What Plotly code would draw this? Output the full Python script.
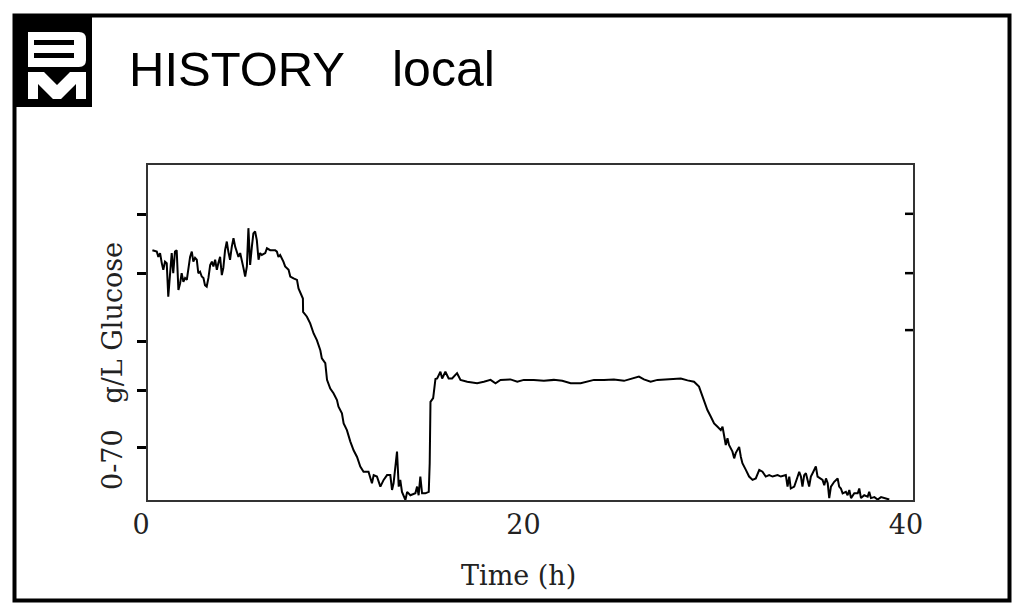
import plotly.graph_objects as go

# ─── Data ─────────────────────────────────────────────────────────────────────

time_h = [
    0.23, 0.46, 0.54, 0.63, 0.72, 0.80, 0.89, 0.98, 1.06, 1.15, 1.24, 1.32, 1.41,
    1.50, 1.59, 1.68, 1.76, 1.85, 1.94, 2.03, 2.11, 2.20, 2.29, 2.37, 2.46, 2.55,
    2.63, 2.72, 2.81, 2.90, 2.98, 3.07, 3.16, 3.25, 3.34, 3.42, 3.51, 3.60, 3.68,
    3.77, 3.86, 3.94, 4.03, 4.12, 4.20, 4.29, 4.38, 4.47, 4.56, 4.64, 4.73, 4.82,
    4.91, 4.99, 5.08, 5.17, 5.25, 5.34, 5.43, 5.51, 5.60, 5.69, 5.78, 5.86, 5.95,
    6.13, 6.22, 6.39, 6.65, 6.74, 6.82, 6.91, 7.08, 7.17, 7.35, 7.44, 7.61, 7.79,
    7.87, 8.00, 8.10, 8.11, 8.31, 8.48, 8.66, 8.83, 9.01, 9.09, 9.27, 9.36, 9.53,
    9.70, 9.88, 9.96, 10.14, 10.23, 10.40, 10.58, 10.75, 10.93, 11.10, 11.27,
    11.53, 11.71, 11.80, 11.97, 12.15, 12.32, 12.50, 12.67, 12.76, 12.84, 13.02,
    13.11, 13.19, 13.28, 13.37, 13.46, 13.55, 13.72, 13.98, 14.07, 14.15, 14.24,
    14.33, 14.50, 14.68, 14.73, 14.77, 14.91, 14.94, 15.03, 15.12, 15.29, 15.38,
    15.55, 15.72, 15.90, 16.16, 16.34, 16.69, 17.21, 17.56, 17.91, 18.17, 18.43,
    18.95, 19.31, 19.65, 20.17, 20.70, 21.22, 21.66, 22.10, 22.62, 22.97, 23.32,
    23.84, 24.36, 24.89, 25.41, 25.67, 25.93, 26.28, 26.64, 27.16, 27.86, 28.21,
    28.55, 28.81, 28.99, 29.07, 29.25, 29.43, 29.60, 29.78, 29.95, 30.04, 30.12,
    30.21, 30.30, 30.38, 30.56, 30.65, 30.73, 30.91, 31.00, 31.08, 31.26, 31.43,
    31.61, 31.78, 31.96, 32.13, 32.30, 32.48, 32.66, 32.92, 33.09, 33.35, 33.44,
    33.53, 33.61, 33.79, 33.97, 34.05, 34.14, 34.22, 34.31, 34.40, 34.57, 34.66,
    34.75, 34.92, 35.01, 35.19, 35.27, 35.36, 35.45, 35.54, 35.62, 35.71, 35.88,
    36.06, 36.14, 36.23, 36.32, 36.49, 36.58, 36.67, 36.76, 36.93, 37.11, 37.19,
    37.28, 37.45, 37.63, 37.71, 37.80, 37.98, 38.15, 38.33, 38.76,
]

glucose = [
    52.2, 51.9, 50.8, 51.6, 49.5, 48.1, 49.8, 49.5, 42.5, 46.7, 51.6, 47.4, 51.9,
    52.2, 43.9, 45.3, 47.4, 45.6, 46.4, 46.0, 48.1, 50.8, 51.9, 49.8, 50.6, 50.2,
    47.4, 47.7, 46.7, 46.4, 44.9, 44.6, 46.4, 49.1, 49.8, 48.8, 50.2, 48.1, 49.5,
    50.8, 47.0, 48.5, 52.2, 54.0, 51.9, 50.2, 52.9, 54.7, 52.9, 51.9, 50.8, 51.6,
    49.5, 48.5, 46.7, 48.8, 56.8, 49.1, 52.9, 55.7, 56.1, 54.3, 50.2, 51.6, 51.2,
    51.6, 52.6, 52.2, 52.2, 51.9, 50.8, 51.2, 49.8, 48.8, 48.1, 46.7, 46.3, 46.0,
    44.2, 43.2, 42.1, 39.3, 38.3, 36.9, 34.8, 33.4, 31.3, 29.6, 28.6, 25.1, 23.3,
    22.3, 20.9, 19.5, 18.1, 16.0, 14.6, 12.2, 10.4, 9.0, 7.0, 5.9,
    5.9, 3.5, 5.2, 4.9, 2.8, 4.2, 5.2, 5.2, 2.1, 3.5, 10.1,
    2.8, 4.2, 1.7, 0.7, 0.0, 1.7, 1.0, 1.4, 2.8, 1.0, 4.9,
    1.4, 1.4, 1.7, 7.7, 20.5, 21.3, 22.3, 25.3, 25.4, 26.8, 25.4,
    26.8, 25.4, 25.4, 26.5, 25.1, 24.7, 24.4, 24.7, 25.1, 24.4, 25.1,
    25.2, 24.7, 25.1, 25.1, 24.9, 25.1, 24.9, 24.4, 24.4, 24.7, 25.1,
    25.1, 25.2, 24.9, 25.4, 25.8, 25.2, 24.7, 25.1, 25.2, 25.4, 25.0,
    24.7, 23.7, 21.6, 20.5, 18.8, 17.4, 16.0, 15.3, 14.6, 15.3, 13.6,
    11.5, 12.9, 11.5, 10.1, 8.7, 9.8, 11.1, 9.0, 7.7, 6.3, 4.9,
    4.2, 4.5, 6.3, 5.9, 4.9, 5.2, 4.9, 5.2, 4.9, 5.2, 2.8,
    4.9, 2.4, 2.8, 4.9, 5.9, 4.9, 2.8, 5.2, 5.6, 2.8, 4.9,
    5.6, 7.0, 4.9, 4.5, 4.2, 3.1, 4.5, 3.5, 0.4, 2.8, 3.8,
    4.5, 2.8, 2.4, 1.4, 1.7, 1.0, 2.1, 0.4, 1.4, 1.4, 2.4,
    0.4, 1.0, 0.7, 1.7, 0.4, 0.6, 0.1, 0.6, 0.1,
]

x_ticks = [0, 20, 40]
left_ticks = [10.9, 22.8, 33.2, 47.4, 59.6]
right_ticks = [35.5, 47.4, 59.8]

# ─── Layout helpers (screen pixel -> paper) ───────────────────────────────────

W, H = 1024, 616
OFF = 8                      # page body margin around the plot div
L, R, T, B = 140, 905, 157, 492
SERIF = "DejaVu Serif"
SANS = "Liberation Sans, Arial, sans-serif"
INK = "#222"


def px(p):
    return (p - OFF - L) / (R - L)


def py(p):
    return (B - (p - OFF)) / (B - T)


fig = go.Figure()
fig.add_trace(go.Scatter(
    x=time_h, y=glucose, mode="lines",
    line=dict(color="black", width=2),
    showlegend=False, hoverinfo="skip",
))

shapes = [
    # outer frame
    dict(type="rect", xref="paper", yref="paper",
         x0=px(14.5), x1=px(1009.5), y0=py(15.5), y1=py(600.5),
         line=dict(color="black", width=4)),
    # logo block
    dict(type="rect", xref="paper", yref="paper",
         x0=px(13), x1=px(92), y0=py(14), y1=py(107),
         line=dict(width=0), fillcolor="black"),
    # B
    dict(type="path", xref="paper", yref="paper",
         path=(f"M {px(28)},{py(32)} L {px(79)},{py(32)} "
               f"Q {px(86)},{py(32)} {px(86)},{py(39)} "
               f"L {px(86)},{py(60)} Q {px(86)},{py(67)} {px(79)},{py(67)} "
               f"L {px(28)},{py(67)} Z"),
         line=dict(width=0), fillcolor="white"),
    dict(type="rect", xref="paper", yref="paper",
         x0=px(34), x1=px(74), y0=py(40), y1=py(45),
         line=dict(width=0), fillcolor="black"),
    dict(type="rect", xref="paper", yref="paper",
         x0=px(34), x1=px(74), y0=py(53), y1=py(58),
         line=dict(width=0), fillcolor="black"),
    # M
    dict(type="path", xref="paper", yref="paper",
         path=(f"M {px(28)},{py(72)} L {px(44)},{py(72)} L {px(57)},{py(85)} "
               f"L {px(70)},{py(72)} L {px(86)},{py(72)} L {px(86)},{py(99)} "
               f"L {px(76)},{py(99)} L {px(76)},{py(84)} L {px(61)},{py(99)} "
               f"L {px(53)},{py(99)} L {px(38)},{py(84)} L {px(38)},{py(99)} "
               f"L {px(28)},{py(99)} Z"),
         line=dict(width=0), fillcolor="white"),
]

# right-hand inside ticks
for v in right_ticks:
    shapes.append(dict(type="line", xref="paper", yref="y",
                       x0=1 - 8 / (R - L), x1=1, y0=v, y1=v,
                       line=dict(color="black", width=2.5)))

annotations = [
    dict(text="HISTORY", xref="paper", yref="paper",
         x=px(127), y=py(69), xanchor="left", yanchor="middle",
         showarrow=False, font=dict(family=SANS, size=49, color="black")),
    dict(text="local", xref="paper", yref="paper",
         x=px(390), y=py(69), xanchor="left", yanchor="middle",
         showarrow=False, font=dict(family=SANS, size=50, color="black")),
    dict(text="0-70\u00a0\u00a0\u00a0g/L\u00a0Glucose", xref="paper", yref="paper",
         x=px(112), y=py(366), xanchor="center", yanchor="middle",
         textangle=-90, showarrow=False,
         font=dict(family=SERIF, size=27, color=INK)),
    dict(text="Time (h)", xref="paper", yref="paper",
         x=px(518), y=py(575), xanchor="center", yanchor="middle",
         showarrow=False, font=dict(family=SERIF, size=27, color=INK)),
]

fig.update_layout(
    width=W, height=H,
    paper_bgcolor="white", plot_bgcolor="white",
    margin=dict(l=L, r=W - R, t=T, b=H - B, pad=0),
    showlegend=False,
    shapes=shapes,
    annotations=annotations,
    xaxis=dict(
        range=[0, 40], tickvals=x_ticks, ticks="",
        showgrid=False, zeroline=False,
        showline=True, mirror=True, linecolor="#333", linewidth=2,
        tickfont=dict(family=SERIF, size=27, color=INK),
        ticklabelshift=-7, ticklabelstandoff=0,
    ),
    yaxis=dict(
        range=[0, 70], tickvals=left_ticks, ticks="outside",
        ticklen=9, tickwidth=2.5, tickcolor="black",
        showticklabels=False, showgrid=False, zeroline=False,
        showline=True, mirror=True, linecolor="#333", linewidth=2,
    ),
)

fig.write_html("out.html")
